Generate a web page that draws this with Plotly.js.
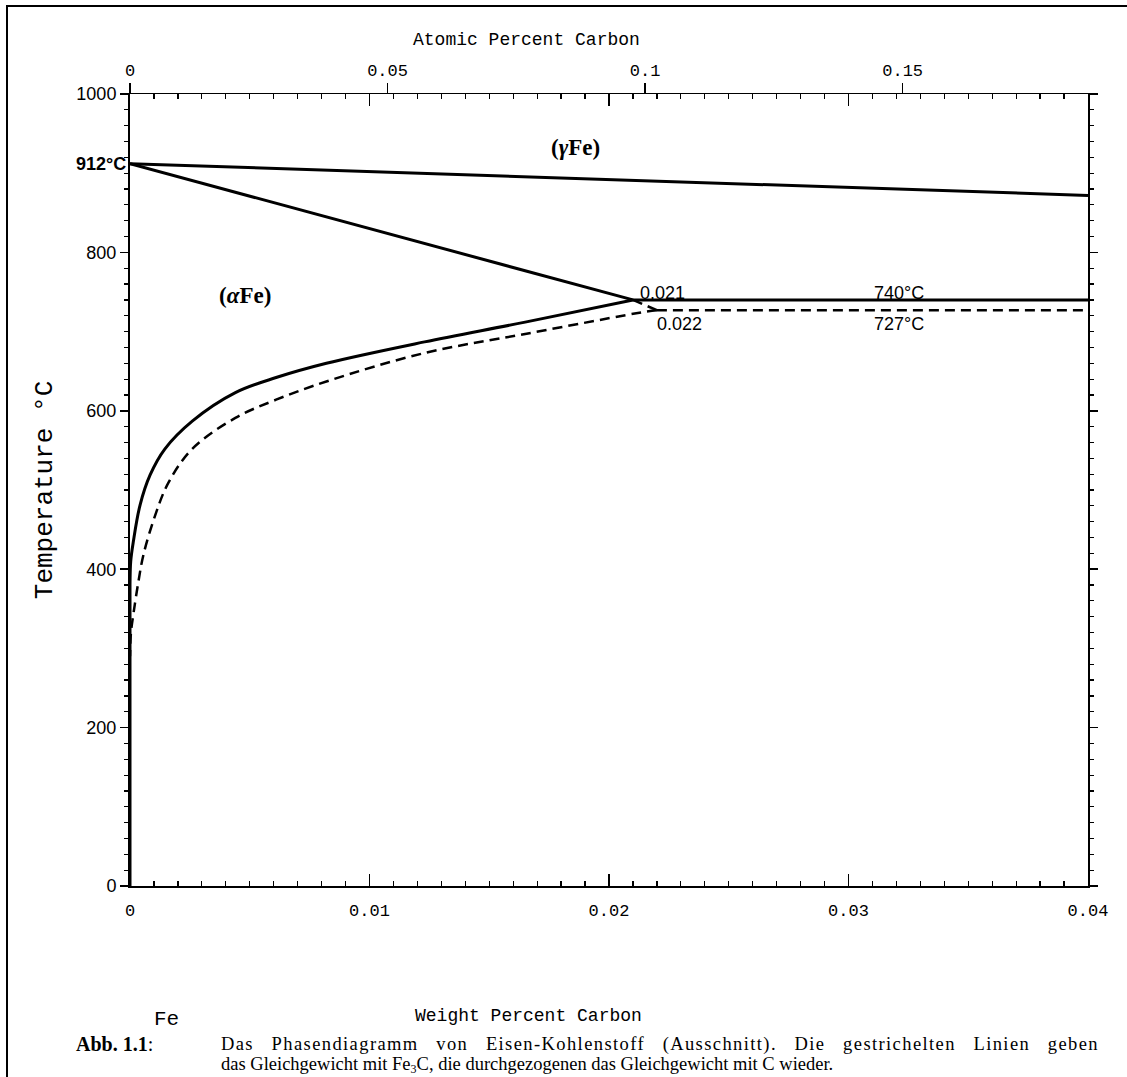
<!DOCTYPE html>
<html>
<head>
<meta charset="utf-8">
<script src="https://cdn.plot.ly/plotly-3.0.1.min.js"></script>
<style>
  html, body { margin: 0; padding: 0; background: #ffffff; }
  #wrap { position: relative; width: 1127px; height: 1077px; overflow: hidden; }
  #chart { position: absolute; left: 0; top: 0; width: 1127px; height: 1077px; }
  .cap { position: absolute; font-family: "Liberation Serif", "Times New Roman", serif; color: #000;
         line-height: 20px; white-space: nowrap; z-index: 5; }
  .cap sub { font-size: 12px; line-height: 0; vertical-align: -3px; }
  #capLabel { left: 76px; top: 1034px; font-size: 20px; }
  #capLine1 { left: 221px; top: 1034px; width: 878px; font-size: 18.5px; letter-spacing: 1.4px;
              text-align: justify; text-align-last: justify; white-space: normal; }
  #capLine2 { left: 221px; top: 1054px; font-size: 18.5px; }
</style>
</head>
<body>
<div id="wrap">
  <div id="chart"></div>
  <div class="cap" id="capLabel"><b>Abb. 1.1</b>:</div>
  <div class="cap" id="capLine1">Das Phasendiagramm von Eisen-Kohlenstoff (Ausschnitt). Die gestrichelten Linien geben</div>
  <div class="cap" id="capLine2">das Gleichgewicht mit Fe<sub>3</sub>C, die durchgezogenen das Gleichgewicht mit C wieder.</div>
</div>
<script>
// ---- tick definitions ----
const wtTicks = [0, 0.01, 0.02, 0.03, 0.04];
const wtTickText = ['0', '0.01', '0.02', '0.03', '0.04'];
const atTicks = [0, 0.05, 0.1, 0.15];
const atTickText = ['0', '0.05', '0.1', '0.15'];
const tempTicks = [0, 200, 400, 600, 800, 1000];
const tempTickText = ['0', '200', '400', '600', '800', '1000'];
const wtMax = 0.04;
const atPerWt = 55.845 / 12.011; // dilute Fe-C: atomic % per weight %

// ---- solid lines: equilibrium with graphite (C) ----
const gammaBoundaryX = [0, 0.04];
const gammaBoundaryT = [912, 872];
const alphaGammaX = [0, 0.021];
const alphaGammaT = [912, 740];
const eutectoidGrX = [0.021, 0.04];
const eutectoidGrT = [740, 740];
const solvusGrX = [0.021, 0.0165, 0.0123, 0.0082, 0.0061, 0.0044, 0.0026, 0.00146, 0.00084, 0.00042, 0.00014, 0.00003, 0, 0];
const solvusGrT = [740, 712, 687, 660, 642, 623, 587, 552, 519, 481, 435, 410, 380, 0];

// ---- dashed lines: equilibrium with Fe3C ----
const alphaGammaFe3CX = [0.021, 0.022];
const alphaGammaFe3CT = [740, 727];
const eutectoidFe3CX = [0.022, 0.04];
const eutectoidFe3CT = [727, 727];
const solvusFe3CX = [0.022, 0.0215, 0.0165, 0.0123, 0.0082, 0.0061, 0.0044, 0.0026, 0.0016, 0.00104, 0.00056, 0.00035, 0.00015, 0.00004, 0];
const solvusFe3CT = [727, 725, 697, 673, 637, 614, 591, 552, 509, 467, 418, 384, 345, 320, 290];

// ---- labels ----
const phaseLabels = ['(<i>γ</i>Fe)', '(<i>α</i>Fe)'];
const phaseLabelX = [0.0186, 0.0048];
const phaseLabelT = [933, 746];
const pointLabels = ['0.021', '740°C', '0.022', '727°C'];
const pointLabelX = [0.0212, 0.0321, 0.0219, 0.0321];
const pointLabelT = [749, 749, 709, 709];

const W = 1127, H = 1077;
const M = { l: 130, r: 39, t: 94, b: 191 };
const pw = W - M.l - M.r, ph = H - M.t - M.b;
function px(x) { return (x - M.l) / pw; }
function py(y) { return (H - M.b - y) / ph; }

const solid = { color: '#000', width: 3 };
const dashed = { color: '#000', width: 2.5, dash: '10px,6px' };

const traces = [
  { x: gammaBoundaryX, y: gammaBoundaryT, mode: 'lines', line: solid, name: 'γ/(α+γ), C' },
  { x: alphaGammaX, y: alphaGammaT, mode: 'lines', line: solid, name: 'α/(α+γ), C' },
  { x: eutectoidGrX, y: eutectoidGrT, mode: 'lines', line: solid, name: 'Eutektoid C' },
  { x: solvusGrX, y: solvusGrT, mode: 'lines', line: Object.assign({ shape: 'spline', smoothing: 1 }, solid), name: 'Solvus C' },
  { x: alphaGammaFe3CX, y: alphaGammaFe3CT, mode: 'lines', line: dashed, name: 'α/(α+γ), Fe3C' },
  { x: eutectoidFe3CX, y: eutectoidFe3CT, mode: 'lines', line: dashed, name: 'Eutektoid Fe3C' },
  { x: solvusFe3CX, y: solvusFe3CT, mode: 'lines', line: Object.assign({ shape: 'spline', smoothing: 1 }, dashed), name: 'Solvus Fe3C' },
  { x: atTicks, y: atTicks.map(() => 1000), xaxis: 'x2', yaxis: 'y', mode: 'markers', marker: { opacity: 0, size: 1 }, hoverinfo: 'skip', name: 'at%' }
];

const monoFont = '"Liberation Mono", "DejaVu Sans Mono", monospace';
const sansFont = '"Liberation Sans", Arial, sans-serif';
const serifFont = '"Liberation Serif", "Times New Roman", serif';

const annotations = [];
phaseLabels.forEach((t, i) => annotations.push({
  x: phaseLabelX[i], y: phaseLabelT[i], xref: 'x', yref: 'y', text: t, showarrow: false,
  xanchor: 'center', yanchor: 'middle',
  font: { family: serifFont, size: 23, color: '#000', weight: 'bold' }
}));
pointLabels.forEach((t, i) => annotations.push({
  x: pointLabelX[i], y: pointLabelT[i], xref: 'x', yref: 'y', text: t, showarrow: false,
  xanchor: (i % 2 === 0) ? 'left' : 'center', yanchor: 'middle',
  font: { family: sansFont, size: 18, color: '#000' }
}));
annotations.push({
  x: 0, y: 912, xref: 'x', yref: 'y', text: '912°C', showarrow: false, xanchor: 'right', yanchor: 'middle', xshift: -2,
  font: { family: sansFont, size: 18, color: '#000', weight: 'bold' }
});
annotations.push({
  x: px(528), y: py(1016), xref: 'paper', yref: 'paper', text: 'Weight Percent Carbon', showarrow: false,
  xanchor: 'center', yanchor: 'middle',
  font: { family: monoFont, size: 18, color: '#000' }
});
annotations.push({
  x: px(526), y: py(40), xref: 'paper', yref: 'paper', text: 'Atomic Percent Carbon', showarrow: false,
  xanchor: 'center', yanchor: 'middle',
  font: { family: monoFont, size: 18, color: '#000' }
});
annotations.push({
  x: px(166), y: py(1020), xref: 'paper', yref: 'paper', text: 'Fe', showarrow: false,
  xanchor: 'center', yanchor: 'middle',
  font: { family: monoFont, size: 21, color: '#000' }
});

const shapes = [{
  type: 'path', xref: 'paper', yref: 'paper',
  path: 'M ' + px(7) + ' ' + py(H + 5) + ' L ' + px(7) + ' ' + py(6) + ' L ' + px(W + 5) + ' ' + py(6),
  line: { color: '#000', width: 2 }
}];

const layout = {
  width: W, height: H,
  margin: M,
  paper_bgcolor: '#fff', plot_bgcolor: '#fff',
  showlegend: false,
  xaxis: {
    range: [0, wtMax], tickvals: wtTicks, ticktext: wtTickText,
    ticks: 'inside', ticklen: 12, tickwidth: 1.5, tickcolor: '#000',
    minor: { dtick: 0.001, ticks: 'inside', ticklen: 5, tickwidth: 1.2, tickcolor: '#000' },
    showline: true, linecolor: '#000', linewidth: 1.5, mirror: 'ticks',
    showgrid: false, zeroline: false, ticklabelstandoff: 8,
    tickfont: { family: monoFont, size: 17, color: '#000' }
  },
  xaxis2: {
    overlaying: 'x', side: 'top', anchor: 'y',
    range: [0, wtMax * atPerWt], tickvals: atTicks, ticktext: atTickText,
    ticks: 'outside', ticklen: 10, tickwidth: 1.5, tickcolor: '#000',
    showline: false, showgrid: false, zeroline: false,
    tickfont: { family: monoFont, size: 17, color: '#000' }
  },
  yaxis: {
    range: [0, 1000], tickvals: tempTicks, ticktext: tempTickText,
    ticks: 'outside', ticklen: 8, tickwidth: 1.5, tickcolor: '#000',
    minor: { dtick: 20, ticks: 'outside', ticklen: 4, tickwidth: 1.2, tickcolor: '#000' },
    showline: true, linecolor: '#000', linewidth: 2, mirror: 'ticks',
    showgrid: false, zeroline: false,
    tickfont: { family: sansFont, size: 18, color: '#000' },
    title: { text: 'Temperature °C', standoff: 16, font: { family: monoFont, size: 26, color: '#000' } }
  },
  annotations: annotations,
  shapes: shapes
};

Plotly.newPlot('chart', traces, layout, { staticPlot: true, displayModeBar: false });
</script>
</body>
</html>
